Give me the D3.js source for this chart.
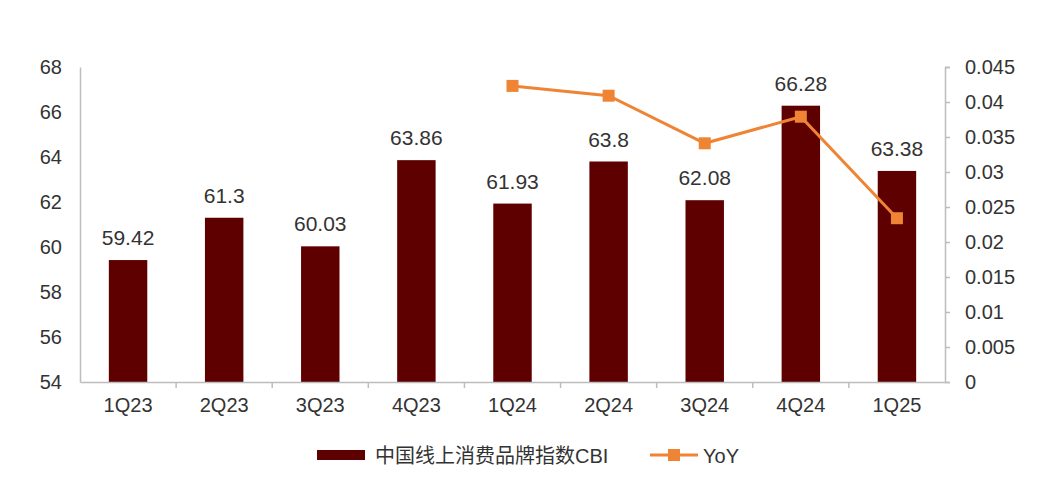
<!DOCTYPE html>
<html><head><meta charset="utf-8">
<script src="https://cdn.jsdelivr.net/npm/d3@7"></script>
<style>body{margin:0;background:#fff}svg{display:block}</style>
</head><body>
<svg id="c" width="1044" height="484"></svg>
<script>
const categories = ["1Q23","2Q23","3Q23","4Q23","1Q24","2Q24","3Q24","4Q24","1Q25"];
const cbiValues = [59.42,61.3,60.03,63.86,61.93,63.8,62.08,66.28,63.38];
const cbiLabels = ["59.42","61.3","60.03","63.86","61.93","63.8","62.08","66.28","63.38"];
const yoyValues = [null,null,null,null,0.0423,0.0409,0.0341,0.0379,0.0234];
const leftTicks = [54,56,58,60,62,64,66,68];
const rightTicks = [0,0.005,0.01,0.015,0.02,0.025,0.03,0.035,0.04,0.045];
const legendLabels = ["中国线上消费品牌指数CBI","YoY"];

const barColor = "#5e0000", lineColor = "#ee8434", axisColor = "#bdbdbd", textColor = "#333";
const font = "'Liberation Sans', Arial, 'Noto Sans CJK SC', sans-serif";
const svg = d3.select("#c");
const L = 80, R = 945, T = 67, B = 382;

const x = d3.scaleBand().domain(categories).range([L, R]).paddingInner(0.6).paddingOuter(0.3);
const xb = d3.scaleBand().domain(categories).range([L, R]);
const yL = d3.scaleLinear().domain([54,68]).range([B, T]);
const yR = d3.scaleLinear().domain([0,0.045]).range([B, T]);

// left axis
const gl = svg.append("g").attr("transform",`translate(${L},0)`)
  .call(d3.axisLeft(yL).tickValues(leftTicks).tickSize(0).tickPadding(18).tickFormat(d3.format("d")));
gl.select(".domain").attr("stroke",axisColor).attr("stroke-width",1.5);
gl.selectAll("text").attr("font-family",font).attr("font-size",20).attr("fill",textColor);

// right axis
const gr = svg.append("g").attr("transform",`translate(${R},0)`)
  .call(d3.axisRight(yR).tickValues(rightTicks).tickSize(5).tickSizeOuter(5).tickPadding(15).tickFormat(d => d === 0 ? "0" : String(+d.toFixed(3))));
gr.select(".domain").attr("stroke",axisColor).attr("stroke-width",1.5);
gr.selectAll("line").attr("stroke",axisColor).attr("stroke-width",1.5);
gr.selectAll("text").attr("font-family",font).attr("font-size",20).attr("fill",textColor);

// bars
svg.append("g").selectAll("rect").data(cbiValues).join("rect")
  .attr("x",(d,i)=>x(categories[i])).attr("width",x.bandwidth())
  .attr("y",d=>yL(d)).attr("height",d=>B-yL(d)).attr("fill",barColor);

// bottom axis
const gb = svg.append("g").attr("transform",`translate(0,${B})`)
  .call(d3.axisBottom(xb).tickSize(0).tickPadding(16));
gb.select(".domain").attr("stroke",axisColor).attr("stroke-width",1.5);
gb.selectAll("text").attr("font-family",font).attr("font-size",20).attr("fill",textColor);
svg.append("g").selectAll("line").data(categories.slice(1)).join("line")
  .attr("x1",d=>xb(d)).attr("x2",d=>xb(d)).attr("y1",B).attr("y2",B+6)
  .attr("stroke",axisColor).attr("stroke-width",1.5);

// bar labels
svg.append("g").selectAll("text").data(cbiValues).join("text")
  .attr("x",(d,i)=>x(categories[i])+x.bandwidth()/2).attr("y",d=>yL(d)-15)
  .attr("text-anchor","middle").attr("font-family",font).attr("font-size",21).attr("fill",textColor)
  .text((d,i)=>cbiLabels[i]);

// line
const pts = yoyValues.map((v,i)=>({c:categories[i],v})).filter(p=>p.v!==null);
const cx = c => xb(c)+xb.bandwidth()/2;
svg.append("path").datum(pts)
  .attr("d",d3.line().x(p=>cx(p.c)).y(p=>yR(p.v)))
  .attr("fill","none").attr("stroke",lineColor).attr("stroke-width",3);
svg.append("g").selectAll("rect").data(pts).join("rect")
  .attr("x",p=>cx(p.c)-6).attr("y",p=>yR(p.v)-6).attr("width",12).attr("height",12).attr("fill",lineColor);

// legend
const lg = svg.append("g");
lg.append("rect").attr("x",317).attr("y",450).attr("width",48).attr("height",10).attr("fill",barColor);
lg.append("text").attr("x",375).attr("y",463).attr("font-family",font).attr("font-size",20).attr("fill",textColor).text(legendLabels[0]);
lg.append("line").attr("x1",650).attr("x2",698).attr("y1",455).attr("y2",455).attr("stroke",lineColor).attr("stroke-width",3);
lg.append("rect").attr("x",668).attr("y",449).attr("width",12).attr("height",12).attr("fill",lineColor);
lg.append("text").attr("x",703).attr("y",463).attr("font-family",font).attr("font-size",20).attr("fill",textColor).text(legendLabels[1]);
</script>
</body></html>
